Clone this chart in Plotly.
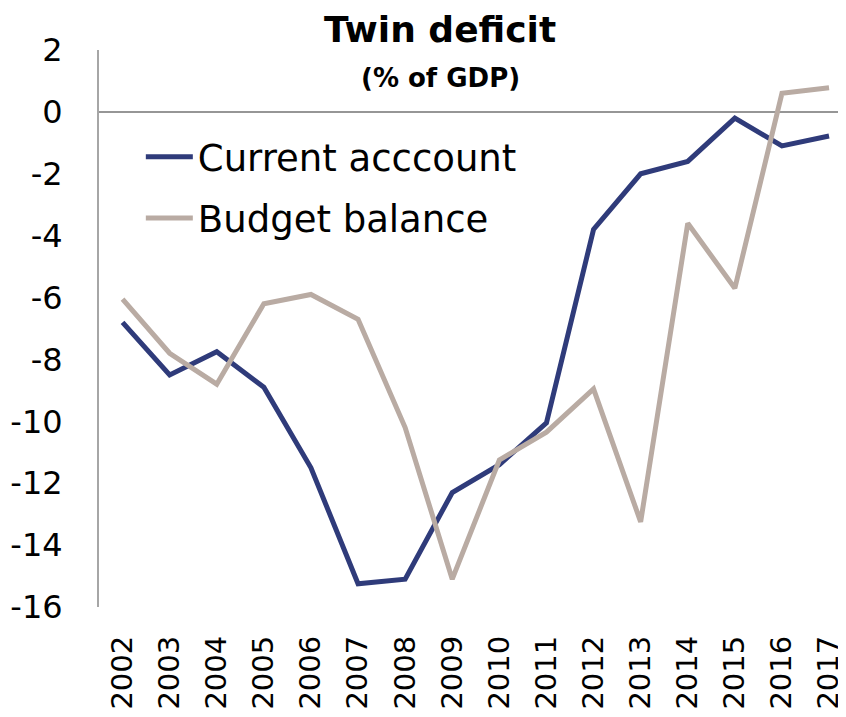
import plotly.graph_objects as go

years = [str(y) for y in range(2002, 2018)]
current_account = [-6.8, -8.5, -7.75, -8.9, -11.5, -15.25, -15.1, -12.3, -11.4, -10.05,
                   -3.8, -2.0, -1.6, -0.2, -1.1, -0.78]
budget_balance = [-6.05, -7.8, -8.8, -6.2, -5.9, -6.7, -10.2, -15.1, -11.25, -10.35,
                  -8.95, -13.25, -3.6, -5.7, 0.6, 0.78]
y_ticks = [2, 0, -2, -4, -6, -8, -10, -12, -14, -16]

NAVY = "#2F3B7A"
TAN = "#B9ABA3"
FONT = "DejaVu Sans"

fig = go.Figure()
fig.add_trace(go.Scatter(x=years, y=current_account, mode="lines", name="Current acccount",
                         line=dict(color=NAVY, width=5), legendgroup="ca"))
fig.add_trace(go.Scatter(x=years, y=budget_balance, mode="lines", name="Budget balance",
                         line=dict(color=TAN, width=5), legendgroup="bb"))

# page body has an 8px margin, so the figure is drawn 8px smaller
fig.update_layout(
    width=838,
    height=709,
    margin=dict(l=91, r=0, t=42, b=110),
    plot_bgcolor="white",
    paper_bgcolor="white",
    font=dict(family=FONT, color="#000000"),
    legend=dict(
        x=0.056, y=0.863, xanchor="left", yanchor="top",
        font=dict(size=37, family=FONT, color="#000000"),
        bgcolor="rgba(0,0,0,0)", tracegroupgap=10, itemwidth=47,
    ),
    annotations=[
        dict(text="<b>Twin deficit</b>", x=0.4565, y=1.036, xref="paper", yref="paper",
             xanchor="center", yanchor="middle", showarrow=False,
             font=dict(size=36, family=FONT)),
        dict(text="<b>(% of GDP)</b>", x=0.4565, y=0.95, xref="paper", yref="paper",
             xanchor="center", yanchor="middle", showarrow=False,
             font=dict(size=26, family=FONT)),
    ],
)

fig.update_xaxes(
    type="category",
    range=[-0.5, 15.36],
    showgrid=False,
    showline=False,
    zeroline=False,
    tickangle=-90,
    tickfont=dict(size=29, family=FONT),
    ticklabelstandoff=22,
    automargin=False,
)
fig.update_yaxes(
    range=[-16, 2],
    tickvals=y_ticks,
    ticktext=[str(v) for v in y_ticks],
    showgrid=False,
    showline=True,
    linecolor="#A6A6A6",
    linewidth=2,
    zeroline=True,
    zerolinecolor="#969696",
    zerolinewidth=2,
    tickfont=dict(size=32, family=FONT),
    ticklabelstandoff=28,
    automargin=False,
)

fig.write_html("out.html")
